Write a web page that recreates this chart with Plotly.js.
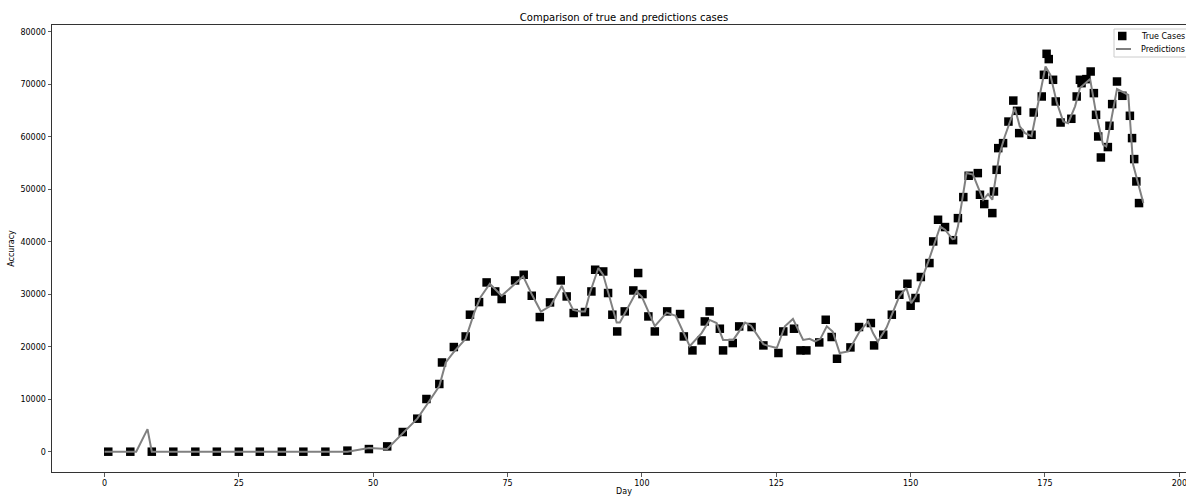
<!DOCTYPE html>
<html>
<head>
<meta charset="utf-8">
<script src="https://cdn.plot.ly/plotly-3.0.1.min.js"></script>
<style>
html,body{margin:0;padding:0;overflow:hidden;background:#fff;}
#chart{width:1240px;height:496px;}
</style>
</head>
<body>
<div id="chart"></div>
<script>
// True cases (markers)
const trueDays = [0.7,4.8,8.8,12.8,16.9,20.9,25.0,28.9,33.0,37.0,41.1,45.2,49.2,
52.6,55.5,58.2,59.9,62.3,62.8,65.0,67.2,68.0,69.7,71.1,72.7,73.9,76.4,78.0,79.5,81.0,82.9,84.9,86.0,87.3,
89.4,90.6,91.3,92.8,93.7,94.5,95.4,96.8,98.4,99.3,100.1,101.2,102.4,104.7,107.1,107.8,109.4,111.1,111.7,112.6,
114.5,115.1,116.9,118.1,120.4,122.6,125.4,126.3,128.3,129.5,130.6,133.0,134.2,135.3,136.3,138.8,140.4,142.6,
143.2,144.9,146.5,147.9,149.4,150.0,150.9,151.9,153.5,154.2,155.1,156.4,157.9,158.8,159.8,160.8,162.5,162.9,
163.7,165.2,165.5,166.0,166.3,167.2,168.2,169.1,169.8,170.2,172.5,172.9,174.4,174.8,175.3,175.7,176.5,177.0,
177.9,179.9,180.9,181.5,181.8,182.7,183.5,184.1,184.5,184.9,185.4,186.7,187.0,187.5,188.4,189.4,190.8,191.2,
191.6,192.0,192.5];
const trueCases = [0,0,0,0,0,0,0,0,0,0,0,200,500,
1010,3750,6290,10040,12900,17000,19940,21960,26100,28500,32250,30530,29090,32630,33710,29710,25650,28440,32630,29580,26420,
26610,30530,34670,34340,30230,26100,22910,26730,30720,34040,30030,25770,22910,26730,26230,21960,19300,21200,24820,26730,
23430,19300,20700,23870,23750,20250,18800,22910,23430,19300,19300,20820,25140,21850,17710,19870,23750,24510,
20250,22290,26100,29900,32000,27810,29280,33280,35940,40060,44190,42800,40300,44500,48510,52570,53080,48950,
47180,45460,49580,53710,57840,58790,62900,66900,64950,60700,60380,64630,67680,71810,75810,74800,70860,66730,
62720,63430,67680,70860,70220,70990,72440,68320,64190,60060,56060,58040,62100,66230,70530,67810,64000,59750,
55750,51490,47370];

// Predictions (line)
const predDays = [0,5.9,8.0,8.8,45.2,49.2,52.6,55.5,58.2,60.0,62.3,63.5,65.0,67.2,68.8,70.0,71.7,73.9,76.4,77.9,79.5,
81.2,83.0,85.1,86.0,87.2,88.5,89.4,90.3,91.9,92.8,95.3,95.9,99.0,100.0,102.4,104.6,106.3,108.9,111.1,112.6,113.9,
115.1,117.0,119.2,120.3,122.6,123.2,125.1,126.6,128.1,130.0,131.2,132.2,133.2,134.4,135.5,136.8,138.4,140.5,142.1,
143.0,143.9,145.5,147.9,149.2,150.1,150.9,153.3,155.5,156.4,157.8,158.2,158.8,160.4,161.6,163.5,164.4,165.2,166.5,
167.5,168.8,169.4,170.3,171.3,172.5,173.9,175.1,176.0,177.2,178.4,179.3,180.6,181.5,183.4,184.5,185.8,186.4,188.4,
190.5,191.4,193.3];
const predictions = [0,0,4300,0,0,700,500,3500,6300,9000,12500,17000,19000,21500,26500,29500,32000,29700,32000,33400,30000,
26700,27800,31600,29500,27000,26700,26700,30200,35000,33700,24600,24600,30500,29500,23900,26500,25900,20100,22600,25100,24500,
21300,21300,24600,24000,20500,20250,19750,23900,25300,21300,21500,21000,21500,23900,22900,18800,19100,22900,24800,
22600,21000,23600,29600,31200,28300,29500,36250,42900,42300,40500,40600,42900,53100,52800,48000,49100,48000,56600,
60000,63600,65500,62000,60700,60100,67000,73400,71800,66500,62900,62600,65800,69300,71000,64500,58500,58150,69100,
68000,54700,47400];

const xTicks = [0,25,50,75,100,125,150,175,200];
const yTicks = [0,10000,20000,30000,40000,50000,60000,70000,80000];
const seriesNames = ['True Cases', 'Predictions'];

const font = {family: 'DejaVu Sans, sans-serif', size: 8, color: '#000'};

const traces = [
  {x: trueDays, y: trueCases, type: 'scatter', mode: 'markers', name: seriesNames[0],
   marker: {symbol: 'square', size: 8.5, color: '#000'}},
  {x: predDays, y: predictions, type: 'scatter', mode: 'lines', name: seriesNames[1],
   line: {color: '#808080', width: 2}}
];

// plot-area geometry (pixels) for the hand-drawn legend
const L = 52, T = 25, W = 1144, H = 447;
const px = v => (v - L) / W;
const py = v => (T + H - v) / H;

const layout = {
  width: 1240, height: 496,
  margin: {l: L, r: 1240 - L - W, t: T, b: 496 - T - H, pad: 0},
  paper_bgcolor: '#fff', plot_bgcolor: '#fff',
  font: font,
  showlegend: false,
  title: {text: 'Comparison of true and predictions cases', font: {family: 'DejaVu Sans, sans-serif', size: 10, color: '#000'},
          x: 0.5, xref: 'paper', y: 1 - 17/496, yref: 'container', yanchor: 'middle'},
  xaxis: {range: [-9.77, 203.1], tickvals: xTicks, ticktext: xTicks.map(String),
          ticks: 'outside', ticklen: 3.5, tickwidth: 0.8, tickcolor: '#333',
          showline: true, mirror: true, linecolor: '#333', linewidth: 1,
          showgrid: false, zeroline: false, automargin: false,
          tickfont: font,
          title: {text: 'Day', font: font, standoff: 3}},
  yaxis: {range: [-3870, 81300], tickvals: yTicks, ticktext: yTicks.map(String),
          ticks: 'outside', ticklen: 3.5, tickwidth: 0.8, tickcolor: '#333',
          showline: true, mirror: true, linecolor: '#333', linewidth: 1,
          showgrid: false, zeroline: false, automargin: false,
          tickfont: font,
          title: {text: 'Accuracy', font: font, standoff: 4}},
  shapes: [
    {type: 'rect', xref: 'paper', yref: 'paper', layer: 'above',
     x0: px(1114), x1: px(1236), y0: py(57), y1: py(29),
     fillcolor: 'rgba(255,255,255,0.85)', line: {color: '#cccccc', width: 1}},
    {type: 'rect', xref: 'paper', yref: 'paper', layer: 'above',
     x0: px(1118), x1: px(1126.5), y0: py(40.25), y1: py(31.75),
     fillcolor: '#000', line: {width: 0}},
    {type: 'line', xref: 'paper', yref: 'paper', layer: 'above',
     x0: px(1116), x1: px(1131), y0: py(49), y1: py(49),
     line: {color: '#808080', width: 2}}
  ],
  annotations: [
    {text: seriesNames[0], xref: 'paper', yref: 'paper', x: px(1139), y: py(36),
     xanchor: 'left', yanchor: 'middle', showarrow: false, font: font},
    {text: seriesNames[1], xref: 'paper', yref: 'paper', x: px(1139), y: py(49),
     xanchor: 'left', yanchor: 'middle', showarrow: false, font: font}
  ]
};

Plotly.newPlot('chart', traces, layout, {displayModeBar: false, staticPlot: true});
</script>
</body>
</html>
